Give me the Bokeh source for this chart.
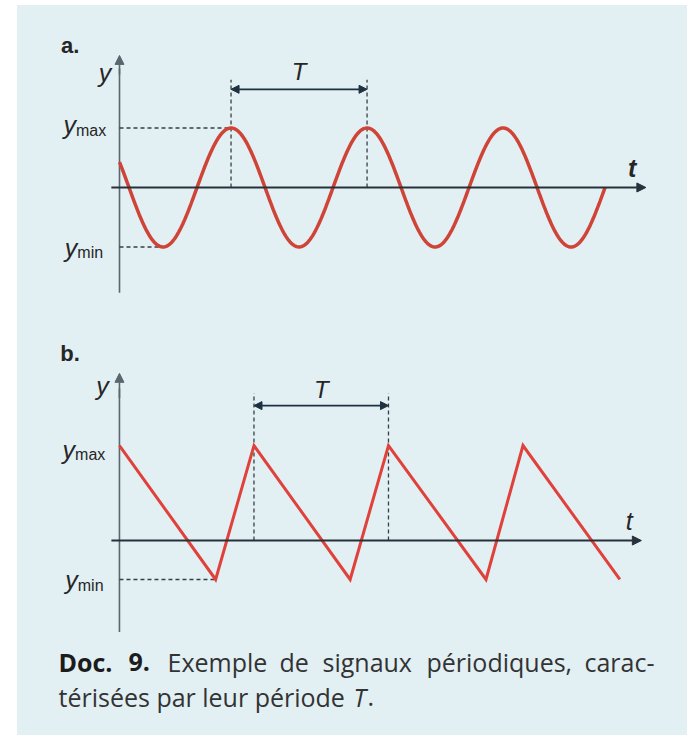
import numpy as np
from bokeh.plotting import figure
from bokeh.models import Range1d, Arrow, NormalHead, Label, Spacer
from bokeh.layouts import column, row
from bokeh.embed import file_html
from bokeh.resources import INLINE

# ---------------- data ----------------
# panel a: sinusoidal signal (period T = 1)
SINE_PERIOD = 1.0
SINE_Y_MAX = 1.0
SINE_Y_MIN = -1.0
SINE_T_START = 0.0
SINE_T_END = 3.57
SINE_PEAKS = [0.82, 1.82, 2.82]
SINE_TROUGHS = [0.32, 1.32, 2.32, 3.32]

# panel b: sawtooth signal (period T = 1)
SAW_T = [0.0, 0.715, 1.0, 1.715, 2.0, 2.725, 3.0, 3.72]
SAW_Y = [1.0, -0.41, 1.0, -0.41, 1.0, -0.41, 1.0, -0.41]
SAW_Y_MAX = 1.0
SAW_Y_MIN = -0.41
SAW_PEAKS = [1.0, 2.0]

CAPTION_BOLD = ["Doc.", "9."]
CAPTION_LINE_1 = ["Exemple", "de", "signaux", "périodiques,", "carac-"]
CAPTION_LINE_2 = "térisées par leur période"
CAPTION_T = "T"
CAPTION_END = "."

# ---------------- styles ----------------
BG = "#e2eff3"
AXIS_T = "#26313b"
AXIS_Y = "#5c666e"
RED_A = "#cf4437"
RED_B = "#e0423b"
DASH = "#3a3f44"
TXT = "#262626"
ARROW_C = "#1e3140"
LAB_FONT = "Liberation Sans"
CAP_FONT = "Open Sans"


def make_fig(height, xr, yr):
    p = figure(width=670, height=height, x_range=xr, y_range=yr,
               output_backend="svg", toolbar_location=None,
               x_axis_location=None, y_axis_location=None,
               min_border=0,
               border_fill_color=BG, background_fill_color=BG,
               outline_line_color=None, styles={"background-color": BG})
    p.grid.visible = False
    return p


def lab(p, x, y, text, size, style="normal", align="left", baseline="middle",
        xo=0, yo=0, color=TXT, font=LAB_FONT):
    p.add_layout(Label(x=x, y=y, text=text, text_font=font,
                       text_font_size=f"{size}px", text_font_style=style,
                       text_align=align, text_baseline=baseline,
                       x_offset=xo, y_offset=yo, text_color=color))


def arrow(p, x0, y0, x1, y1, color, width, both=False, size=9):
    head = dict(size=size, fill_color=color, line_color=color, line_width=1)
    p.add_layout(Arrow(x_start=x0, y_start=y0, x_end=x1, y_end=y1,
                       line_color=color, line_width=width,
                       end=NormalHead(**head),
                       start=NormalHead(**head) if both else None))


# ---------------- panel a ----------------
pa = make_fig(313, Range1d(-0.75, 4.176), Range1d(-2.202, 3.059))

# axes
pa.segment(x0=[0], y0=[-1.77], x1=[0], y1=[2.0], line_color=AXIS_Y, line_width=1.6)
arrow(pa, 0, 1.9, 0, 2.22, AXIS_Y, 1.6, size=9)
arrow(pa, -0.06, 0, 3.87, 0, AXIS_T, 2, size=9)

# dashed guides
pa.segment(x0=[SINE_T_START, SINE_T_START], y0=[SINE_Y_MAX, SINE_Y_MIN],
           x1=[SINE_PEAKS[0], SINE_TROUGHS[0]], y1=[SINE_Y_MAX, SINE_Y_MIN],
           line_color=DASH, line_width=1.3, line_dash="4 3")
pa.segment(x0=SINE_PEAKS[:2], y0=[0, 0], x1=SINE_PEAKS[:2], y1=[1.81, 1.81],
           line_color=DASH, line_width=1.3, line_dash="4 3")

# curve
t = np.linspace(SINE_T_START, SINE_T_END, 500)
amp = (SINE_Y_MAX - SINE_Y_MIN) / 2
mid = (SINE_Y_MAX + SINE_Y_MIN) / 2
y = mid + amp * np.cos(2 * np.pi * (t - SINE_PEAKS[0]) / SINE_PERIOD)
pa.line(t, y, line_color=RED_A, line_width=3.5)

# period arrow
arrow(pa, SINE_PEAKS[0], 1.65, SINE_PEAKS[1], 1.65, ARROW_C, 1.6, both=True, size=8)
lab(pa, (SINE_PEAKS[0] + SINE_PEAKS[1]) / 2, 1.95, "T", 24, "italic", "center")

# labels
lab(pa, -0.43, 2.39, "a.", 22, "bold")
lab(pa, -0.06, 1.93, "y", 25, "italic", "right")
lab(pa, -0.32, SINE_Y_MAX, "y", 25, "italic", "right", "alphabetic", yo=3)
lab(pa, -0.32, SINE_Y_MAX, "max", 16, "normal", "left", "alphabetic", yo=-3)
lab(pa, -0.31, SINE_Y_MIN, "y", 25, "italic", "right", "alphabetic", yo=-1)
lab(pa, -0.31, SINE_Y_MIN, "min", 16, "normal", "left", "alphabetic", yo=-6)
lab(pa, 3.77, 0.32, "t", 25, "bold italic", "center")

# ---------------- panel b ----------------
pb = make_fig(314, Range1d(-0.758, 4.223), Range1d(-0.968, 2.337))

pb.segment(x0=[0], y0=[-1.0], x1=[0], y1=[1.6], line_color=AXIS_Y, line_width=1.6)
arrow(pb, 0, 1.5, 0, 1.76, AXIS_Y, 1.6, size=9)
arrow(pb, -0.06, 0, 3.88, 0, AXIS_T, 2, size=9)

pb.segment(x0=[0], y0=[SAW_Y_MIN], x1=[SAW_T[1]], y1=[SAW_Y_MIN],
           line_color=DASH, line_width=1.3, line_dash="4 3")
pb.segment(x0=SAW_PEAKS, y0=[0, 0], x1=SAW_PEAKS, y1=[1.55, 1.55],
           line_color=DASH, line_width=1.3, line_dash="4 3")

pb.line(SAW_T, SAW_Y, line_color=RED_B, line_width=3, line_join="miter")

arrow(pb, SAW_PEAKS[0], 1.42, SAW_PEAKS[1], 1.42, ARROW_C, 1.6, both=True, size=8)
lab(pb, (SAW_PEAKS[0] + SAW_PEAKS[1]) / 2, 1.59, "T", 24, "italic", "center")

lab(pb, -0.44, 1.97, "b.", 22, "bold")
lab(pb, -0.08, 1.63, "y", 25, "italic", "right")
lab(pb, -0.33, SAW_Y_MAX, "y", 25, "italic", "right", "alphabetic", yo=-4)
lab(pb, -0.33, SAW_Y_MAX, "max", 16, "normal", "left", "alphabetic", yo=-9)
lab(pb, -0.31, SAW_Y_MIN, "y", 25, "italic", "right", "alphabetic", yo=-1)
lab(pb, -0.31, SAW_Y_MIN, "min", 16, "normal", "left", "alphabetic", yo=-6)
lab(pb, 3.79, 0.21, "t", 25, "italic", "center")

# ---------------- caption ----------------
pc = make_fig(103, Range1d(17, 687), Range1d(735, 632))
CAP_SIZE = 25
for word, x in zip(CAPTION_BOLD, [58, 128]):
    lab(pc, x, 661, word, CAP_SIZE, "bold", baseline="alphabetic", font=CAP_FONT, color="#1c1c1c")
for word, x in zip(CAPTION_LINE_1, [167, 279, 322, 426, 584]):
    lab(pc, x, 661, word, CAP_SIZE, baseline="alphabetic", font=CAP_FONT, color="#333333")
lab(pc, 58, 696, CAPTION_LINE_2, CAP_SIZE, baseline="alphabetic", font=CAP_FONT, color="#333333")
lab(pc, 353, 696, CAPTION_T, CAP_SIZE, "italic", baseline="alphabetic", font=CAP_FONT, color="#333333")
lab(pc, 367, 696, CAPTION_END, CAP_SIZE, baseline="alphabetic", font=CAP_FONT, color="#333333")

panels = column(pa, pb, pc, spacing=0, styles={"background-color": BG})
layout = column(Spacer(height=5),
                row(Spacer(width=17), panels, spacing=0),
                spacing=0)
open("out.html", "w").write(file_html(layout, INLINE))
